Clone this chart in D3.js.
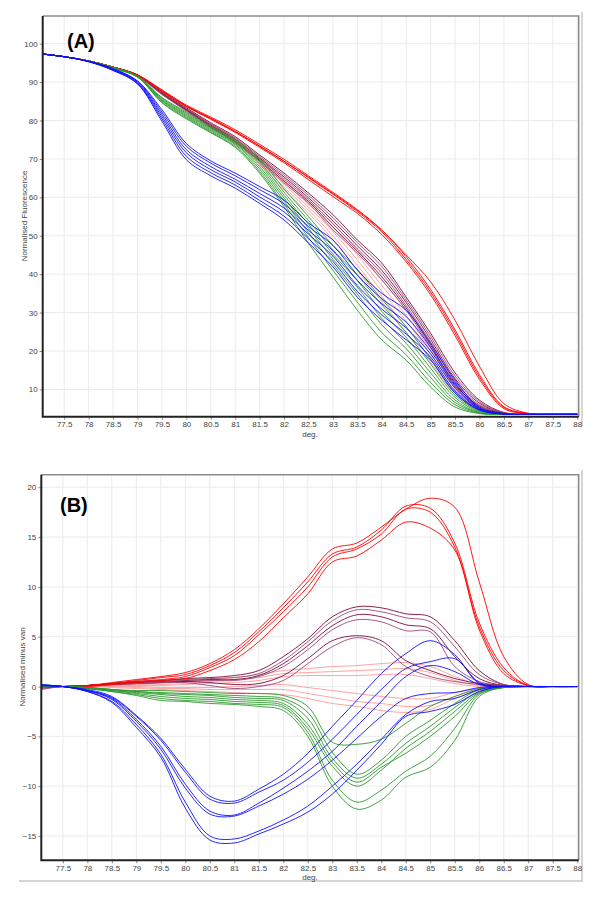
<!DOCTYPE html>
<html><head><meta charset="utf-8">
<script src="https://cdn.jsdelivr.net/npm/d3@7"></script>
<style>body{margin:0;background:#fff}svg{display:block}</style>
</head><body>
<svg id="c" width="600" height="906"></svg>
<script>
// ---------- DATA ----------
const temps = [77.06,77.5,78,78.5,79,79.5,80,80.5,81,81.5,82,82.5,83,83.5,84,84.5,85,85.5,86,86.5,87,87.5,88];
const xTicks = [77.5,78,78.5,79,79.5,80,80.5,81,81.5,82,82.5,83,83.5,84,84.5,85,85.5,86,86.5,87,87.5,88];
const yTicksA = [10,20,30,40,50,60,70,80,90,100];
const yTicksB = [-15,-10,-5,0,5,10,15,20];

// Panel A: normalised fluorescence
const redA = [
 [97.3,96.6,95.5,93.9,91.9,88.0,84.0,80.9,77.6,73.8,69.9,65.6,61.3,56.8,51.5,44.5,36.0,25.5,13.8,5.5,3.7,3.5,3.5],
 [97.3,96.6,95.5,93.9,91.8,87.8,83.8,80.6,77.2,73.4,69.4,65.1,60.8,56.3,51.0,43.8,35.3,24.8,13.2,5.3,3.7,3.5,3.5],
 [97.3,96.6,95.5,93.9,91.8,87.6,83.6,80.3,76.9,73.0,69.0,64.6,60.2,55.8,50.3,43.2,34.6,24.0,12.6,5.0,3.7,3.5,3.5],
 [97.3,96.6,95.5,93.9,91.8,87.7,83.7,80.5,77.1,73.3,69.4,65.3,61.0,56.6,51.4,45.0,38.0,28.0,16.0,6.3,3.8,3.5,3.5]
];
const maroonA = [
 [97.3,96.6,95.5,93.9,91.9,87.4,83.3,79.4,75.8,71.0,66.3,61.1,55.5,48.9,42.9,34.0,24.6,14.3,7.2,4.0,3.5,3.5,3.5],
 [97.3,96.6,95.5,93.9,91.8,87.2,83.1,79.1,75.4,70.6,65.8,60.5,54.7,48.2,42.0,33.3,23.8,13.5,6.8,3.9,3.5,3.5,3.5],
 [97.3,96.6,95.5,93.9,91.8,87.1,82.9,78.8,75.1,70.2,65.3,59.9,53.9,47.4,41.0,32.6,23.0,12.8,6.4,3.8,3.5,3.5,3.5],
 [97.3,96.6,95.5,93.9,91.7,87.0,82.8,78.6,74.8,69.9,64.8,59.4,53.1,46.6,40.2,31.8,22.3,12.0,6.0,3.8,3.5,3.5,3.5],
 [97.3,96.6,95.5,93.9,91.7,86.9,82.7,78.4,74.5,69.6,64.2,58.9,52.3,46.0,39.3,31.2,21.6,11.3,5.7,3.7,3.5,3.5,3.5],
 [97.3,96.6,95.5,93.9,91.6,86.8,82.5,78.2,74.3,69.3,63.7,58.5,51.5,45.5,38.5,30.6,21.0,10.6,5.4,3.7,3.5,3.5,3.5]
];
const pinkA = [
 [97.3,96.6,95.5,93.9,91.8,87.1,83.0,79.2,75.5,70.5,64.5,59.0,53.2,46.3,38.5,30.6,21.5,12.4,5.4,3.7,3.5,3.5,3.5],
 [97.3,96.6,95.5,93.9,91.8,87.0,82.9,79.0,75.1,70.1,63.9,58.2,52.2,45.0,37.0,29.2,20.3,11.4,5.2,3.7,3.5,3.5,3.5],
 [97.3,96.6,95.5,93.9,91.7,86.9,82.8,78.8,74.8,69.6,63.3,57.5,51.1,43.7,35.6,27.8,19.2,10.6,5.0,3.6,3.5,3.5,3.5],
 [97.3,96.6,95.5,93.9,91.7,86.8,82.6,78.7,74.4,69.2,62.6,56.7,50.0,42.3,34.2,26.3,18.1,9.8,4.8,3.6,3.5,3.5,3.5],
 [97.3,96.6,95.5,93.9,91.6,86.7,82.5,78.5,74.0,68.8,61.9,55.9,49.0,41.0,32.8,24.8,17.0,9.0,4.6,3.6,3.5,3.5,3.5]
];
const greenA = [
 [97.3,96.6,95.5,93.8,91.6,86.0,82.2,78.4,75.0,69.9,62.2,55.0,47.5,41.2,33.5,26.3,17.8,9.2,4.7,3.6,3.5,3.5,3.5],
 [97.3,96.6,95.5,93.8,91.5,85.8,81.9,78.1,74.6,69.2,61.3,54.0,46.3,39.7,32.0,24.8,16.6,8.5,4.4,3.6,3.5,3.5,3.5],
 [97.3,96.6,95.5,93.8,91.5,85.5,81.6,77.9,74.3,68.6,60.5,53.0,45.2,38.3,30.3,23.5,15.5,7.9,4.2,3.5,3.5,3.5,3.5],
 [97.3,96.6,95.5,93.7,91.4,85.3,81.3,77.6,74.0,68.0,59.8,51.9,43.9,36.6,28.5,22.0,14.3,7.2,4.0,3.5,3.5,3.5,3.5],
 [97.3,96.6,95.5,93.7,91.4,85.1,81.0,77.3,73.7,67.4,59.0,50.8,42.6,34.8,26.8,20.6,13.1,6.6,3.9,3.5,3.5,3.5,3.5],
 [97.3,96.6,95.5,93.6,91.3,84.8,80.7,77.0,73.3,66.8,58.2,49.5,41.0,32.7,24.8,19.0,11.8,6.0,3.8,3.5,3.5,3.5,3.5],
 [97.3,96.6,95.5,93.6,91.3,84.6,80.4,76.8,73.0,66.3,57.5,48.0,39.3,30.6,22.9,17.6,10.6,5.4,3.7,3.5,3.5,3.5,3.5]
];
const blueA = [
 [97.3,96.6,95.4,93.5,90.3,82.8,74.0,69.5,66.3,62.8,59.3,53.3,48.9,41.1,35.0,30.6,22.0,12.4,5.4,3.7,3.5,3.5,3.5],
 [97.3,96.6,95.4,93.4,90.2,82.2,73.3,68.9,65.6,62.0,58.3,52.4,47.5,39.8,33.6,29.0,20.9,11.7,5.2,3.7,3.5,3.5,3.5],
 [97.3,96.6,95.4,93.3,90.0,81.6,72.4,68.0,64.7,61.0,57.2,51.4,46.1,38.4,32.3,27.5,20.0,11.0,5.0,3.6,3.5,3.5,3.5],
 [97.3,96.6,95.4,93.2,89.8,81.0,71.6,67.2,64.0,60.1,56.2,50.4,44.7,37.0,30.9,26.0,19.2,10.3,4.9,3.6,3.5,3.5,3.5],
 [97.3,96.6,95.3,93.1,89.6,80.4,70.7,66.4,63.2,59.2,55.1,49.2,43.3,35.5,29.4,24.4,18.4,9.6,4.7,3.6,3.5,3.5,3.5],
 [97.3,96.6,95.3,93.0,89.5,79.8,69.8,65.6,62.4,58.4,54.1,48.1,41.9,34.0,28.0,22.9,17.6,9.0,4.6,3.6,3.5,3.5,3.5]
];

// Panel B: normalised minus van
const redB = [
 [0.1,0,0.1,0.4,0.7,1.0,1.4,2.3,3.7,5.8,8.3,11.0,13.8,14.4,16.0,17.8,18.9,18.0,10.5,3.0,0.2,0,0],
 [0,0,0.1,0.3,0.6,0.9,1.2,2.1,3.4,5.5,7.9,10.5,13.3,14.0,15.7,18.1,17.9,14.4,6.4,1.9,0.1,0,0],
 [0,0,0.1,0.3,0.5,0.7,1.0,1.9,3.1,5.2,7.5,10.0,13.0,13.8,15.3,17.8,17.5,14.0,6.0,1.6,0.1,0,0],
 [-0.1,0,0,0.2,0.4,0.6,0.8,1.6,2.7,4.5,6.9,9.3,12.5,13.1,14.7,16.5,15.9,13.7,5.7,1.3,0.1,0,0]
];
const maroonB = [
 [0.1,0,0.1,0.3,0.5,0.6,0.8,0.9,1.1,1.6,3.0,4.8,7.0,8.0,7.9,7.3,7.0,4.6,1.6,0.2,0,0,0],
 [0,0,0.1,0.3,0.5,0.6,0.7,0.8,0.9,1.3,2.6,4.5,6.6,7.7,7.5,6.9,6.5,4.0,1.2,0.2,0,0,0],
 [0,0,0.1,0.3,0.4,0.5,0.6,0.7,0.7,1.1,2.3,4.1,6.1,7.2,7.0,6.2,5.8,3.0,0.8,0.1,0,0,0],
 [0,0,0.1,0.2,0.3,0.4,0.5,0.6,0.6,1.0,2.0,3.7,5.7,6.7,6.5,5.6,5.5,2.0,0.5,0.1,0,0,0],
 [-0.2,0,0.1,0.2,0.3,0.4,0.5,0.4,0.2,0.3,1.1,2.8,4.6,5.1,4.6,2.6,1.6,0.8,0.3,0.1,0,0,0],
 [-0.3,0,0,0.2,0.3,0.4,0.4,0.1,-0.2,0,0.6,2.3,4.0,4.9,4.2,2.0,1.0,0.5,0.2,0,0,0,0]
];
const pinkB = [
 [0,0,0,0.1,0.2,0.3,0.5,0.7,0.9,1.2,1.6,1.8,2.0,2.1,2.3,2.4,2.0,1.0,0.2,0,0,0,0],
 [0,0,0,0.1,0.1,0.2,0.3,0.5,0.7,0.9,1.3,1.4,1.5,1.6,1.7,1.8,1.4,0.6,0.1,0,0,0,0],
 [0,0,0,0,0.1,0.1,0.2,0.3,0.4,0.6,1.0,1.1,1.1,1.1,1.2,1.2,0.8,0.3,0,0,0,0,0],
 [0,0,0,0,0,-0.1,-0.1,-0.1,0,0.1,0.2,-0.1,-0.4,-0.7,-1.0,-1.2,-1.2,-0.6,-0.2,0,0,0,0],
 [0,0,0,0,-0.1,-0.2,-0.2,-0.3,-0.3,-0.3,-0.3,-0.7,-1.1,-1.5,-1.7,-2.0,-1.9,-1.0,-0.3,0,0,0,0],
 [0,0,0,-0.1,-0.2,-0.3,-0.4,-0.5,-0.6,-0.7,-0.8,-1.2,-1.7,-2.0,-2.4,-2.6,-2.3,-1.2,-0.4,0,0,0,0]
];
const greenB = [
 [0,0,-0.1,-0.3,-0.4,-0.4,-0.5,-0.6,-0.7,-0.7,-0.9,-2.0,-5.6,-5.8,-5.3,-3.7,-2.0,-1.0,-0.2,0,0,0,0],
 [0,0,-0.1,-0.3,-0.5,-0.6,-0.7,-0.8,-0.9,-1.0,-1.2,-2.6,-6.6,-8.8,-7.4,-5.0,-3.4,-1.7,-0.3,0,0,0,0],
 [0,0,-0.1,-0.3,-0.5,-0.7,-0.8,-0.9,-1.1,-1.2,-1.4,-3.2,-7.2,-9.2,-7.8,-5.7,-4.0,-2.1,-0.5,0,0,0,0],
 [0,0,-0.1,-0.4,-0.6,-0.8,-1.0,-1.1,-1.3,-1.4,-1.7,-3.8,-7.6,-9.6,-8.1,-6.7,-5.0,-3.0,-0.7,-0.1,0,0,0],
 [0,0,-0.2,-0.4,-0.7,-1.0,-1.2,-1.3,-1.5,-1.6,-1.9,-4.2,-8.0,-10.0,-8.4,-6.2,-4.5,-2.5,-0.6,0,0,0,0],
 [0,0,-0.2,-0.5,-0.8,-1.2,-1.4,-1.5,-1.7,-1.8,-2.1,-4.6,-9.4,-11.6,-10.4,-8.5,-7.0,-4.2,-0.8,-0.1,0,0,0],
 [0,0,-0.2,-0.5,-0.9,-1.4,-1.5,-1.7,-1.8,-2.0,-2.4,-5.0,-10.0,-12.3,-11.4,-9.1,-8.1,-5.4,-1.0,-0.1,0,0,0]
];
const blueB = [
 [0.2,0,-0.3,-1.0,-2.9,-5.2,-8.3,-11.0,-11.5,-10.3,-8.8,-6.7,-4.0,-1.4,1.3,3.3,4.6,3.2,0.3,0,0,0,0],
 [0.2,0,-0.4,-1.1,-3.0,-5.4,-8.6,-11.3,-11.7,-10.6,-9.4,-7.6,-5.3,-2.8,-0.3,1.8,2.5,2.8,0.4,0,0,0,0],
 [0.1,0,-0.4,-1.2,-3.3,-6.0,-9.8,-12.5,-12.9,-11.7,-10.2,-8.5,-6.5,-4.0,-1.5,1.0,2.1,1.5,0.2,0,0,0,0],
 [0.1,0,-0.4,-1.3,-3.5,-6.3,-10.2,-12.8,-13.0,-12.0,-10.8,-9.3,-7.4,-5.2,-3.0,-1.2,-0.7,-0.6,-0.1,0,0,0,0],
 [0.1,0,-0.5,-1.5,-3.8,-6.8,-11.6,-15.0,-15.3,-14.5,-13.4,-12.0,-10.0,-7.8,-5.3,-2.8,-1.5,-1.2,-0.3,0,0,0,0],
 [0.1,0,-0.5,-1.6,-4.1,-7.1,-12.2,-15.4,-15.7,-14.8,-13.8,-12.6,-10.8,-8.4,-5.8,-3.0,-2.5,-1.8,-0.5,0,0,0,0]
];

const groupColors = {red:"#ff0000", maroon:["#7d0a3c","#9a4a78"], pink:"#ff9a9a", green:"#2f9a2f", blue:"#1010ff"};

// ---------- DRAW ----------
const svg = d3.select("#c");
const font = "'Liberation Sans', Arial, sans-serif";

function drawPanel(p) {
  const x = d3.scaleLinear().domain([77.06, 88.03]).range([p.left, p.right]);
  const y = d3.scaleLinear().domain(p.yDomain).range([p.bottom, p.top]);
  const g = svg.append("g");

  // outer light frame
  g.append("path").attr("d", p.outerPath)
    .attr("fill","none").attr("stroke","#c8c8c8").attr("stroke-width",1.5);

  // grid
  g.append("g").selectAll("line").data(xTicks).join("line")
    .attr("x1", d=>x(d)).attr("x2", d=>x(d)).attr("y1", p.top).attr("y2", p.bottom)
    .attr("stroke","#ebebeb").attr("stroke-width",1);
  g.append("g").selectAll("line").data(p.yTicks).join("line")
    .attr("x1", p.left).attr("x2", p.right).attr("y1", d=>y(d)).attr("y2", d=>y(d))
    .attr("stroke","#ebebeb").attr("stroke-width",1);

  // axes
  const xAxis = d3.axisBottom(x).tickValues(xTicks).tickSize(3).tickPadding(2)
    .tickFormat(d => String(+d.toFixed(1)));
  const gx = g.append("g").attr("transform", `translate(0,${p.bottom})`).call(xAxis);
  const yAxis = d3.axisLeft(y).tickValues(p.yTicks).tickSize(3).tickPadding(2);
  const gy = g.append("g").attr("transform", `translate(${p.left},0)`).call(yAxis);
  [gx, gy].forEach(a => {
    a.select(".domain").remove();
    a.selectAll(".tick line").attr("stroke","#888");
    a.selectAll(".tick text").attr("fill","#444").style("font-family", font).style("font-size","8px");
  });

  // curves
  const line = d3.line().x((d,i)=>x(temps[i])).y(d=>y(d)).curve(d3.curveCatmullRom.alpha(0.5));
  const clipId = "clip" + p.id;
  svg.append("clipPath").attr("id", clipId).append("rect")
    .attr("x", p.left).attr("y", p.top).attr("width", p.right-p.left).attr("height", p.bottom-p.top);
  const cg = g.append("g").attr("clip-path", `url(#${clipId})`);
  p.groups.forEach(gr => {
    cg.append("g").selectAll("path").data(gr.data).join("path")
      .attr("d", line).attr("fill","none")
      .attr("stroke", (d,i) => Array.isArray(gr.color) ? gr.color[i % gr.color.length] : gr.color)
      .attr("stroke-width", 1).attr("stroke-opacity", 0.9);
  });

  // frame
  g.append("path").attr("d", `M${p.left},${p.top}H${p.right}V${p.bottom}`)
    .attr("fill","none").attr("stroke","#8a8a8a").attr("stroke-width",1.5);
  g.append("path").attr("d", `M${p.left},${p.top}V${p.bottom}H${p.right}`)
    .attr("fill","none").attr("stroke","#222").attr("stroke-width",2);

  // labels
  g.append("text").attr("x", 310).attr("y", p.bottom + p.degDy).attr("text-anchor","middle")
    .style("font-family", font).style("font-size","8px").attr("fill","#444").text("deg.");
  g.append("text").attr("transform", `translate(${p.yLabelX},${p.yLabelY}) rotate(-90)`)
    .attr("text-anchor","middle").style("font-family", font).style("font-size","8px")
    .attr("fill","#444").text(p.yLabel);
  g.append("text").attr("x", p.tagX).attr("y", p.tagY)
    .style("font-family", font).style("font-size","20px").style("font-weight","bold")
    .attr("fill","#000").text(p.tag);
}

drawPanel({
  id:"A", left:42.7, right:578.7, top:16, bottom:416.7, yDomain:[2.9,107.2], yTicks:yTicksA,
  outerPath:"M582,12V426", degDy:20,
  yLabel:"Normalised Fluorescence", yLabelX:27, yLabelY:216, tag:"(A)", tagX:67, tagY:48,
  groups:[{data:pinkA,color:groupColors.pink},{data:maroonA,color:groupColors.maroon},
          {data:redA,color:groupColors.red},{data:greenA,color:groupColors.green},{data:blueA,color:groupColors.blue}]
});
drawPanel({
  id:"B", left:41.3, right:578.7, top:474.7, bottom:860.3, yDomain:[-17.44,21.26], yTicks:yTicksB,
  outerPath:"M19,881H582V470", degDy:20,
  yLabel:"Normalised minus van", yLabelX:25, yLabelY:667, tag:"(B)", tagX:60, tagY:512,
  groups:[{data:pinkB,color:groupColors.pink},{data:maroonB,color:groupColors.maroon},
          {data:redB,color:groupColors.red},{data:greenB,color:groupColors.green},{data:blueB,color:groupColors.blue}]
});
</script>
</body></html>
